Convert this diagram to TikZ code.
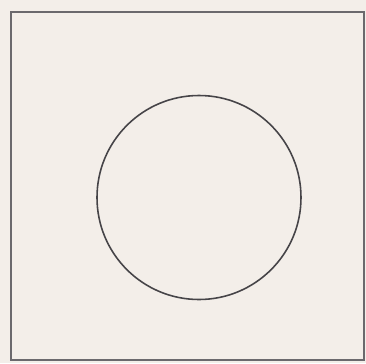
\documentclass[tikz,border=0pt]{standalone}
\begin{document}
\begin{tikzpicture}[x=0.02cm,y=-0.02cm]
\definecolor{paper}{RGB}{243,238,233}
\definecolor{ink}{RGB}{70,68,72}
\tikzset{frame/.style={draw=ink!80,line width=1.2pt},ring/.style={draw=ink,line width=0.9pt}}
\fill[paper] (0,0) rectangle (366,363);
\useasboundingbox (0,0) rectangle (366,363);
\draw[frame] (11,12) rectangle (364,360);
\draw[ring] (199,197.5) circle[radius=102];
\end{tikzpicture}
\end{document}
